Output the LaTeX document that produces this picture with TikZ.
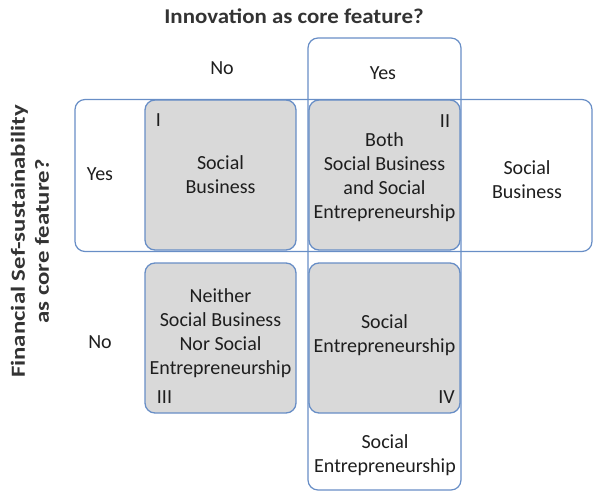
\documentclass[tikz,border=0pt]{standalone}
\usepackage{fontspec}
\usepackage{graphicx}
\setmainfont{Carlito}
\usetikzlibrary{positioning}

\definecolor{framecol}{RGB}{104,142,198}
\definecolor{cellgray}{RGB}{217,217,217}
\definecolor{inkcol}{RGB}{30,30,30}

\tikzset{
  cell/.style={draw=framecol,line width=1.3pt,rounded corners=10pt,fill=cellgray,
    minimum width=151pt,minimum height=150pt,inner sep=0pt,outer sep=0pt},
  frame/.style={draw=framecol,line width=1.2pt,rounded corners=10pt,
    inner sep=0pt,outer sep=0pt},
  txt/.style={align=center,text=inkcol,font=\fontsize{20}{24}\selectfont},
  heading/.style={align=center,text=black!80,font=\bfseries\fontsize{21}{24}\selectfont},
  numeral/.style={text=inkcol,font=\fontsize{20}{24}\selectfont,inner sep=0pt}
}

\begin{document}
\begin{tikzpicture}[x=1pt,y=-1pt]
\useasboundingbox (0,0) rectangle (593,494);

% the four quadrants
\node[cell] (quadI) at (220.5,175) {};
\node[cell] (quadII) [right=13pt of quadI] {};
\node[cell] (quadIII) [below=13pt of quadI] {};
\node[cell] (quadIV) [below=13pt of quadII] {};

% yes-row and yes-column outlines
\node[frame,minimum width=517pt,minimum height=152pt] (rowyes) at (333.5,175.5) {};
\node[frame,minimum width=153pt,minimum height=452pt] (colyes) at (384.5,264) {};

% quadrant texts
\node[txt] at (quadI) {Social\\Business};
\node[txt] at ([yshift=-2.5pt]quadII) {Both\\Social Business\\and Social\\Entrepreneurship};
\node[txt] at ([yshift=4.5pt]quadIII) {Neither\\Social Business\\Nor Social\\Entrepreneurship};
\node[txt] at ([yshift=3pt]quadIV) {Social\\Entrepreneurship};

\node[numeral] at ([xshift=13.5pt,yshift=-20pt]quadI.north west) {I};
\node[numeral] at ([xshift=-15pt,yshift=-21pt]quadII.north east) {II};
\node[numeral] at ([xshift=19.5pt,yshift=16pt]quadIII.south west) {III};
\node[numeral] at ([xshift=-13.5pt,yshift=16pt]quadIV.south east) {IV};

% texts outside the quadrants
\node[txt] (rowbiz) at (527,180) {Social\\Business};
\node[txt] (colent) at (385,455.5) {Social\\Entrepreneurship};

% axis headings
\node[heading] (title) at (294,16) {\scalebox{1.09}[1]{Innovation as core feature?}};
\node[txt] (topno) at (222,68) {No};
\node[txt] (topyes) at (383,73) {Yes};
\node[heading,rotate=90,font=\bfseries\fontsize{20}{24}\selectfont] (side) at (32,241.5)
  {\scalebox{1.24}[1]{\begin{tabular}{@{}c@{}}Financial Sef-sustainability\\as core feature?\end{tabular}}};
\node[txt] (sideyes) at (100,174) {Yes};
\node[txt] (sideno) at (100,342) {No};

\end{tikzpicture}
\end{document}
